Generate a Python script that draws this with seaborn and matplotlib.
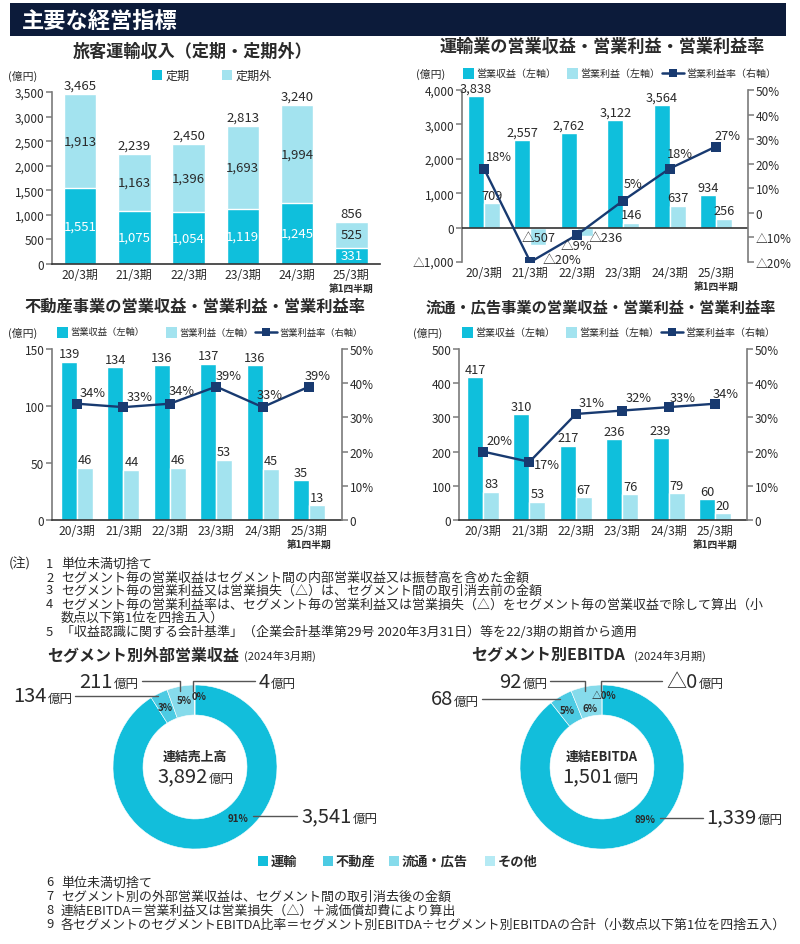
import numpy as np
import pandas as pd
import matplotlib
matplotlib.use('Agg')
import matplotlib.pyplot as plt
import seaborn as sns
from matplotlib.patches import Rectangle
from matplotlib.lines import Line2D

# ---------------- data ----------------
periods = ['20/3期', '21/3期', '22/3期', '23/3期', '24/3期', '25/3期']
q1_note = '第1四半期'

teiki = [1551, 1075, 1054, 1119, 1245, 331]
teikigai = [1913, 1163, 1396, 1693, 1994, 525]
passenger_total = [3465, 2239, 2450, 2813, 3240, 856]

trans_rev = [3838, 2557, 2762, 3122, 3564, 934]
trans_op = [709, -507, -236, 146, 637, 256]
trans_margin = [18, -20, -9, 5, 18, 27]

re_rev = [139, 134, 136, 137, 136, 35]
re_op = [46, 44, 46, 53, 45, 13]
re_margin = [34, 33, 34, 39, 33, 39]

rt_rev = [417, 310, 217, 236, 239, 60]
rt_op = [83, 53, 67, 76, 79, 20]
rt_margin = [20, 17, 31, 32, 33, 34]

segments = ['運輸', '不動産', '流通・広告', 'その他']
ext_rev = [3541, 134, 211, 4]
ext_rev_pct = ['91%', '3%', '5%', '0%']
ext_rev_labels = ['3,541', '134', '211', '4']
ext_total = '3,892'
ebitda = [1339, 68, 92, 0]
ebitda_pct = ['89%', '5%', '6%', '△0%']
ebitda_labels = ['1,339', '68', '92', '△0']
ebitda_total = '1,501'

notes_top = [
    ('(注)', '1', '単位未満切捨て'),
    ('', '2', 'セグメント毎の営業収益はセグメント間の内部営業収益又は振替高を含めた金額'),
    ('', '3', 'セグメント毎の営業利益又は営業損失（△）は、セグメント間の取引消去前の金額'),
    ('', '4', 'セグメント毎の営業利益率は、セグメント毎の営業利益又は営業損失（△）をセグメント毎の営業収益で除して算出（小'),
    ('', '', '数点以下第1位を四捨五入）'),
    ('', '5', '「収益認識に関する会計基準」（企業会計基準第29号 2020年3月31日）等を22/3期の期首から適用'),
]
notes_bottom = [
    ('6', '単位未満切捨て'),
    ('7', 'セグメント別の外部営業収益は、セグメント間の取引消去後の金額'),
    ('8', '連結EBITDA＝営業利益又は営業損失（△）＋減価償却費により算出'),
    ('9', '各セグメントのセグメントEBITDA比率＝セグメント別EBITDA÷セグメント別EBITDAの合計（小数点以下第1位を四捨五入）'),
]

# ---------------- style ----------------
CYAN = '#0fbfdc'
LIGHT = '#a3e3ef'
NAVY = '#183a70'
HDR = '#0c1b3a'
GRAY = '#7a7a7a'
DARK = '#2a2a2a'
SEG_COLORS = ['#12bedb', '#4ccbe3', '#86dbeb', '#b5eaf4']

W, H = 800, 945
sns.set_theme(style='white')
plt.rcParams['font.family'] = ['Noto Sans CJK JP', 'DejaVu Sans']
plt.rcParams['axes.unicode_minus'] = False

fig = plt.figure(figsize=(8, 9.45), dpi=100)
fig.patch.set_facecolor('white')


def rect(l, t, r, b):
    return [l / W, 1 - b / H, (r - l) / W, (b - t) / H]


def ftext(x, y, s, **kw):
    kw.setdefault('va', 'center')
    kw.setdefault('color', DARK)
    fig.text(x / W, 1 - y / H, s, **kw)


def fline(xs, ys, **kw):
    fig.add_artist(Line2D([x / W for x in xs], [1 - y / H for y in ys],
                          transform=fig.transFigure, **kw))


def fbox(x, y, w, h, color):
    fig.add_artist(Rectangle((x / W, 1 - (y + h) / H), w / W, h / H,
                             transform=fig.transFigure, color=color, lw=0))


def fmt(v):
    return ('△' if v < 0 else '') + f'{abs(v):,}'


def pfmt(v):
    if v == 0:
        return '0'
    return ('△' if v < 0 else '') + f'{abs(v)}%'


def style_left(ax, yticks, bottom_spine=True):
    for s in ['top', 'right']:
        ax.spines[s].set_visible(False)
    ax.spines['left'].set_color(GRAY)
    ax.spines['left'].set_linewidth(1.2)
    ax.spines['bottom'].set_visible(bottom_spine)
    ax.spines['bottom'].set_color('#333333')
    ax.spines['bottom'].set_linewidth(1.2)
    ax.set_yticks(yticks, [fmt(v) for v in yticks])
    ax.tick_params(axis='y', left=True, direction='out', length=4, width=1.1,
                   color=GRAY, labelsize=8.5, labelcolor=DARK, pad=1.5)
    ax.set_xticks(range(len(periods)), periods)
    ax.tick_params(axis='x', bottom=False, length=0, labelsize=8.7,
                   labelcolor=DARK, pad=3)
    ax.set_xlabel('')
    ax.set_ylabel('')
    ax.set_facecolor('none')
    ax.annotate(q1_note, xy=(5, 0), xycoords=('data', 'axes fraction'),
                xytext=(0, -24), textcoords='offset pixels', ha='center',
                va='center', fontsize=7, color=DARK, weight='bold')


def style_right(axr, yticks):
    for s in ['top', 'left', 'bottom']:
        axr.spines[s].set_visible(False)
    axr.spines['right'].set_color(GRAY)
    axr.spines['right'].set_linewidth(1.2)
    axr.set_yticks(yticks, [pfmt(v) for v in yticks])
    axr.tick_params(axis='y', right=True, direction='out', length=4, width=1.1,
                    color=GRAY, labelsize=8.5, labelcolor=DARK, pad=1.5)
    axr.set_ylabel('')
    axr.set_xlabel('')


def legend3(y, x0, xs, fs):
    # xs: square1 x, square2 x, line start x
    ftext(x0, y, '(億円)', fontsize=7.8, ha='left')
    fbox(xs[0], y - 5.5, 11, 11, CYAN)
    ftext(xs[0] + 13, y, '営業収益（左軸）', fontsize=fs, ha='left')
    fbox(xs[1], y - 5.5, 11, 11, LIGHT)
    ftext(xs[1] + 13, y, '営業利益（左軸）', fontsize=fs, ha='left')
    fline([xs[2], xs[2] + 22], [y, y], color=NAVY, lw=1.8)
    fbox(xs[2] + 7, y - 4, 8, 8, NAVY)
    ftext(xs[2] + 24, y, '営業利益率（右軸）', fontsize=fs, ha='left')


def segment_chart(box, rev, op, margin, ylim, yticks, rlim, rticks, xlim,
                  margin_offsets, zero_line=False, op_neg_offsets=None):
    ax = fig.add_axes(rect(*box))
    df = pd.DataFrame({'period': periods * 2, 'value': rev + op,
                       'kind': ['rev'] * len(rev) + ['op'] * len(op)})
    sns.barplot(data=df, x='period', y='value', hue='kind', hue_order=['rev', 'op'],
                palette={'rev': CYAN, 'op': LIGHT}, width=0.69, gap=0,
                saturation=1, errorbar=None, legend=False, ax=ax)
    style_left(ax, yticks, bottom_spine=not zero_line)
    ax.set_ylim(*ylim)
    ax.set_xlim(*xlim)
    if zero_line:
        ax.axhline(0, color='#333333', lw=1.2, zorder=3)
    bars = ax.patches
    n = len(rev)
    for i in range(n):
        b = bars[i]
        ax.annotate(fmt(rev[i]), xy=(b.get_x() + b.get_width() / 2, rev[i]),
                    xytext=(0, 1), textcoords='offset points', ha='center',
                    va='bottom', fontsize=9.2, color=DARK)
        b = bars[n + i]
        cx = b.get_x() + b.get_width() / 2
        if op[i] >= 0:
            ax.annotate(fmt(op[i]), xy=(cx, op[i]), xytext=(0, 1),
                        textcoords='offset points', ha='center', va='bottom',
                        fontsize=9.2, color=DARK)
        else:
            dx, ha = op_neg_offsets[i]
            ax.annotate(fmt(op[i]), xy=(cx, 0), xytext=(dx, -10),
                        textcoords='offset pixels', ha=ha, va='center',
                        fontsize=9.2, color=DARK)
    axr = ax.twinx()
    sns.lineplot(x=np.arange(n), y=margin, ax=axr, color=NAVY, lw=1.7,
                 marker='s', markersize=6.5, markeredgewidth=0)
    axr.set_ylim(*rlim)
    axr.set_xlim(*xlim)
    style_right(axr, rticks)
    for i in range(n):
        dx, dy, ha = margin_offsets[i]
        axr.annotate(pfmt(margin[i]), xy=(i, margin[i]), xytext=(dx, dy),
                     textcoords='offset pixels', ha=ha, va='center',
                     fontsize=9.2, color=DARK)
    return ax, axr


# ---------------- header ----------------
fbox(10, 4, 776, 33, HDR)
ftext(22, 21, '主要な経営指標', fontsize=16, weight='bold', color='white', ha='left')

# ---------------- chart 1 ----------------
ftext(193, 52, '旅客運輸収入（定期・定期外）', fontsize=12.3, weight='bold', ha='center')
ftext(8, 76, '(億円)', fontsize=7.8, ha='left')
fbox(152, 71, 10, 10, CYAN)
ftext(166, 76, '定期', fontsize=8.7, ha='left')
fbox(222, 71, 10, 10, LIGHT)
ftext(236, 76, '定期外', fontsize=8.7, ha='left')

ax1 = fig.add_axes(rect(52, 93, 380, 265))
df1 = pd.DataFrame({'period': periods,
                    'stack': np.array(teiki) + np.array(teikigai),
                    'teiki': teiki})
sns.barplot(data=df1, x='period', y='stack', color=LIGHT, width=0.6,
            saturation=1, errorbar=None, ax=ax1)
sns.barplot(data=df1, x='period', y='teiki', color=CYAN, width=0.6,
            saturation=1, errorbar=None, ax=ax1)
style_left(ax1, [0, 500, 1000, 1500, 2000, 2500, 3000, 3500])
ax1.set_ylim(0, 3500)
ax1.set_xlim(-0.52, 5.53)
for i in range(len(periods)):
    ax1.text(i, teiki[i] / 2, fmt(teiki[i]), ha='center', va='center',
             fontsize=9.5, color='white')
    ax1.text(i, teiki[i] + teikigai[i] / 2, fmt(teikigai[i]), ha='center',
             va='center', fontsize=9.5, color=DARK)
    ax1.annotate(fmt(passenger_total[i]), xy=(i, teiki[i] + teikigai[i]),
                 xytext=(0, 1.5), textcoords='offset points', ha='center',
                 va='bottom', fontsize=9.5, color=DARK)

# ---------------- chart 2 ----------------
ftext(602, 47, '運輸業の営業収益・営業利益・営業利益率', fontsize=12.3,
      weight='bold', ha='center')
legend3(74, 416, [463, 567, 662], 7.2)
segment_chart((462, 91, 748, 263), trans_rev, trans_op, trans_margin,
              (-1000, 4000), [-1000, 0, 1000, 2000, 3000, 4000],
              (-20, 50), [-20, -10, 0, 10, 20, 30, 40, 50], (-0.474, 5.69),
              [(2, 12, 'left'), (12, 3, 'left'), (0, -11, 'center'),
               (1, 17, 'left'), (-3, 15, 'left'), (-2, 11, 'left')],
              zero_line=True,
              op_neg_offsets={1: (0, 'center'), 2: (4, 'left')})

# ---------------- chart 3 ----------------
ftext(195, 307, '不動産事業の営業収益・営業利益・営業利益率', fontsize=11.7,
      weight='bold', ha='center')
legend3(333, 8, [57, 166, 255], 6.7)
segment_chart((52, 350, 342, 521), re_rev, re_op, re_margin,
              (0, 150), [0, 50, 100, 150], (0, 50), [0, 10, 20, 30, 40, 50],
              (-0.54, 5.71),
              [(3, 11, 'left'), (3, 11, 'left'), (-1, 13, 'left'),
               (-1, 11, 'left'), (-6, 13, 'left'), (-4, 11, 'left')])

# ---------------- chart 4 ----------------
ftext(601, 307, '流通・広告事業の営業収益・営業利益・営業利益率', fontsize=11,
      weight='bold', ha='center')
legend3(333, 413, [462, 566, 661], 7.2)
segment_chart((459, 350, 747, 521), rt_rev, rt_op, rt_margin,
              (0, 500), [0, 100, 200, 300, 400, 500], (0, 50),
              [0, 10, 20, 30, 40, 50], (-0.52, 5.69),
              [(3, 11, 'left'), (4, -3, 'left'), (3, 11, 'left'),
               (3, 13, 'left'), (1, 10, 'left'), (-2, 10, 'left')])

# ---------------- notes ----------------
NFS = 9.35
ys = [564, 578, 591, 605, 618, 632]
for (a, n, t), y in zip(notes_top, ys):
    if a:
        ftext(9, y, a, fontsize=NFS, ha='left')
    if n:
        ftext(46, y, n, fontsize=NFS, ha='left')
    ftext(61, y, t, fontsize=NFS, ha='left')

# ---------------- donuts ----------------
def donut(cx, cy, values):
    ax = fig.add_axes(rect(cx - 100, cy - 100, cx + 100, cy + 100))
    ax.pie(values, colors=SEG_COLORS, startangle=90, counterclock=False,
           radius=1, wedgeprops=dict(width=0.366, edgecolor='white', linewidth=0.4))
    lim = 100 / 82
    ax.set_xlim(-lim, lim)
    ax.set_ylim(-lim, lim)
    ax.set_aspect('equal')
    ax.axis('off')
    return ax


def big_label(xsplit, y, num):
    ftext(xsplit, y, num, fontsize=14.5, ha='right')
    ftext(xsplit + 1, y + 2, '億円', fontsize=9, ha='left')


LC = '#555555'
# left donut
ftext(47, 655, 'セグメント別外部営業収益', fontsize=11.5, weight='bold', ha='left')
ftext(244, 656, '(2024年3月期)', fontsize=8, ha='left')
donut(195, 768, ext_rev)
ftext(195, 757, '連結売上高', fontsize=9.3, ha='center', weight='bold')
big_label(208, 777, ext_total)
big_label(352, 817, ext_rev_labels[0])
big_label(47, 697, ext_rev_labels[1])
big_label(113, 682, ext_rev_labels[2])
big_label(270, 682, ext_rev_labels[3])
fline([253, 297], [817, 817], color=LC, lw=1)
fline([75, 158], [697, 697], color=LC, lw=1)
fline([142, 180, 180], [682, 682, 692], color=LC, lw=1)
fline([193, 193, 255], [692, 682, 682], color=LC, lw=1)
for (x, y), t in zip([(238, 819), (165, 708), (184, 701), (199, 697)], ext_rev_pct):
    ftext(x, y, t, fontsize=7, ha='center', weight='bold')

# right donut
ftext(471, 655, 'セグメント別EBITDA', fontsize=11.5, weight='bold', ha='left')
ftext(634, 656, '(2024年3月期)', fontsize=8, ha='left')
donut(602, 768, ebitda)
ftext(602, 757, '連結EBITDA', fontsize=9.3, ha='center', weight='bold')
big_label(613, 777, ebitda_total)
big_label(757, 818, ebitda_labels[0])
big_label(453, 700, ebitda_labels[1])
big_label(522, 682, ebitda_labels[2])
big_label(698, 682, ebitda_labels[3])
fline([660, 703], [819, 819], color=LC, lw=1)
fline([482, 560], [700, 700], color=LC, lw=1)
fline([550, 585, 585], [682, 682, 692], color=LC, lw=1)
fline([601, 601, 662], [692, 682, 682], color=LC, lw=1)
for (x, y), t in zip([(645, 820), (567, 711), (590, 709), (604, 696)], ebitda_pct):
    ftext(x, y, t, fontsize=7, ha='center', weight='bold')

# segment legend
for x, c, s in zip([258, 323, 389, 485], SEG_COLORS, segments):
    fbox(x, 857, 10, 10, c)
    ftext(x + 13, 862, s, fontsize=9.5, ha='left', weight='bold')

for (n, t), y in zip(notes_bottom, [883, 897, 911, 925]):
    ftext(46, y, n, fontsize=NFS, ha='left')
    ftext(61, y, t, fontsize=NFS, ha='left')

fig.savefig('out.png', dpi=100, facecolor='white')
